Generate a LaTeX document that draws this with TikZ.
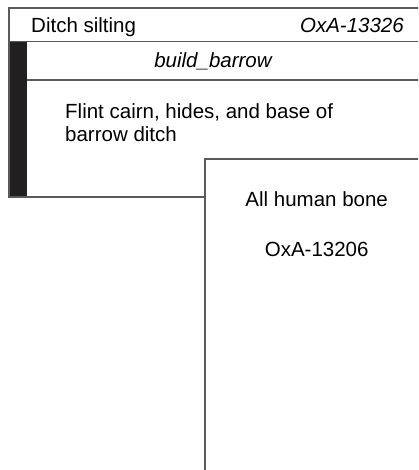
\documentclass[tikz,border=0pt]{standalone}
\usepackage{fontspec}
\setmainfont{Liberation Sans}
\usetikzlibrary{positioning}
\definecolor{framegray}{HTML}{5A5A5A}
\definecolor{barblack}{HTML}{231F20}

\begin{document}
\begin{tikzpicture}[
  x=1pt, y=-1pt,
  every node/.style={inner sep=0pt, text=black,
    font=\fontsize{20.5}{23.3}\selectfont},
  frame/.style={draw=framegray, line width=1.6pt},
  rowlabel/.style={anchor=base west},
  datelabel/.style={anchor=base east, font=\fontsize{20.5}{23.3}\selectfont\itshape},
  centerlabel/.style={anchor=base}
]
\useasboundingbox (0,0) rectangle (418,470);
\clip (0,0) rectangle (418,470);

% ── Outer phase box ───────────────────────────────────────────────────────
\fill[barblack] (9,41.5) rectangle (27,197);
\draw[frame] (205,197) -- (9,197) -- (9,8) -- (440,8);
\draw[frame] (9,41.5) -- (440,41.5);
\draw[frame] (27,80) -- (440,80);

\node[rowlabel] (phase) at (31,33) {Ditch silting};
\node[datelabel] (phasedate) at (404,33) {OxA-13326};
\node[centerlabel, font=\fontsize{20.5}{23.3}\selectfont\itshape]
  (group) at (213,67.5) {build\_barrow};
\node[rowlabel] (desc) at (65,118.5) {Flint cairn, hides, and base of};
\node[rowlabel] (desc2) at (65,141.5) {barrow ditch};

% ── Inner sample box ──────────────────────────────────────────────────────
\draw[frame, fill=white] (205,159) rectangle (440,480);

\node[centerlabel] (sample) at (316.7,206) {All human bone};
\node[centerlabel] (sampledate) at (316.7,256.5) {OxA-13206};

\end{tikzpicture}
\end{document}
